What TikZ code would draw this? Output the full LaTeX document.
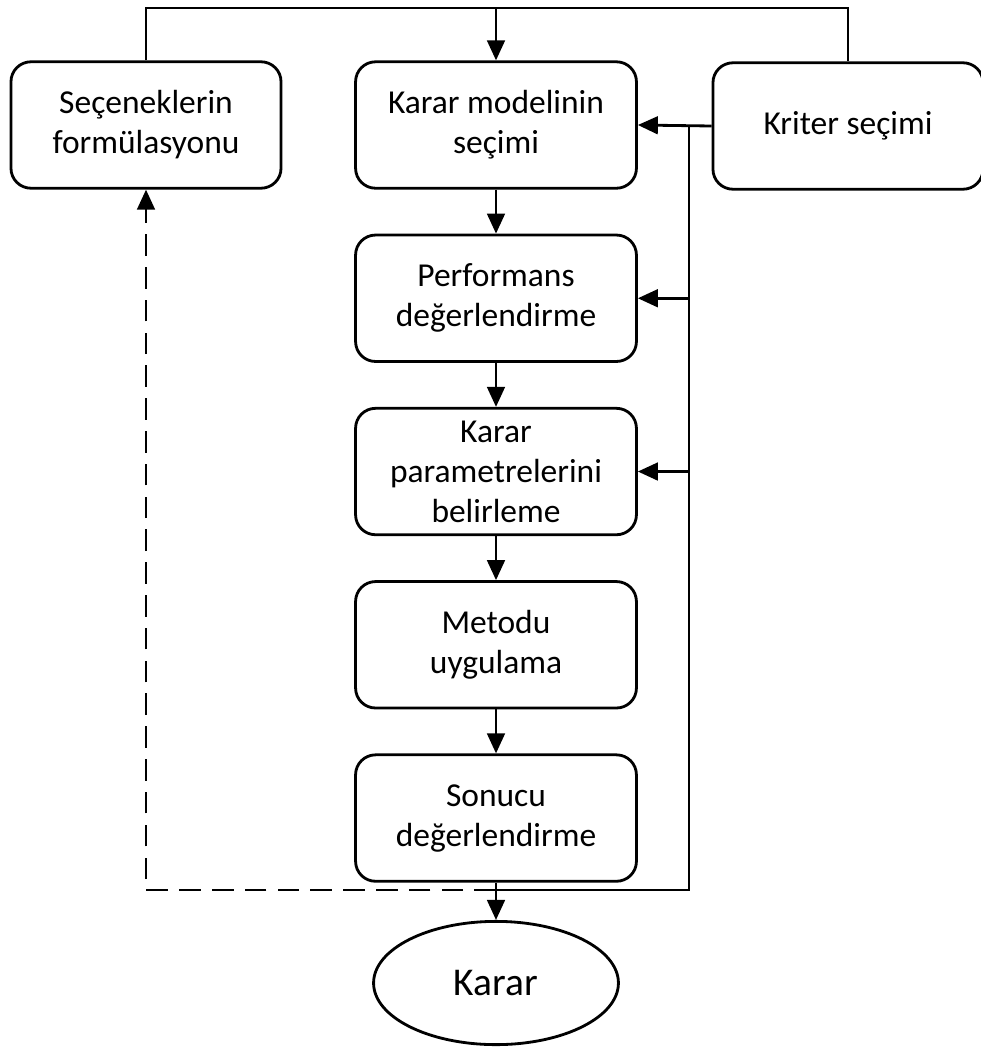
\documentclass[tikz,border=0pt]{standalone}
\usepackage{fontspec}
\setmainfont{Carlito}
\usetikzlibrary{arrows.meta,positioning,shapes.geometric}

\begin{document}
\begin{tikzpicture}[x=0.0125cm, y=-0.0125cm,
    box/.style={draw, rounded corners=0.25cm, line width=1pt,
                align=center, font=\fontsize{11.9}{14.2}\selectfont,
                minimum width=3.51cm, minimum height=1.58cm, inner sep=0pt},
    side/.style={box, minimum width=3.375cm},
    oval/.style={draw, ellipse, line width=1pt,
                 font=\fontsize{14}{16}\selectfont,
                 minimum width=3.06cm, minimum height=1.54cm, inner sep=0pt},
    arr/.style={-{Triangle[width=0.22cm,length=0.25cm]}, line width=1pt},
    link/.style={line width=1pt},
    back/.style={arr, dash pattern=on 0.27cm off 0.14cm}
  ]
    \useasboundingbox (0,0) rectangle (981,1049);

    \node[box]  (model)   at (496,125)              {Karar modelinin\\seçimi};
    \node[box]  (perf)    [below=0.55cm of model]   {Performans\\değerlendirme};
    \node[box]  (param)   [below=0.55cm of perf]    {Karar\\parametrelerini\\belirleme};
    \node[box]  (metod)   [below=0.55cm of param]   {Metodu\\uygulama};
    \node[box]  (sonuc)   [below=0.55cm of metod]   {Sonucu\\değerlendirme};
    \node[oval] (karar)   at (496,983)              {Karar};
    \node[side] (secenek) at (146,125)              {Seçeneklerin\\formülasyonu};
    \node[side] (kriter)  at (848,126)              {Kriter seçimi};

    \coordinate (top)     at (496,8);
    \coordinate (railtop) at (689,125);
    \coordinate (railbot) at (689,890);
    \coordinate (join)    at (496,890);

    % main chain
    \draw[arr] (model) -- (perf);
    \draw[arr] (perf)  -- (param);
    \draw[arr] (param) -- (metod);
    \draw[arr] (metod) -- (sonuc);
    \draw[arr] (sonuc) -- (karar);

    % loop over the top
    \draw[link] (secenek.north) |- (top) -| (kriter.north);
    \draw[arr]  (top) -- (model.north);

    % criteria rail on the right
    \draw[arr]  (kriter.west) -- (model.east);
    \draw[link] (railtop) -- (railbot) -- (join);
    \draw[arr]  (railtop |- perf.east)  -- (perf.east);
    \draw[arr]  (railtop |- param.east) -- (param.east);

    % dashed feedback
    \draw[back] (join) -| (secenek.south);
  \end{tikzpicture}
\end{document}
